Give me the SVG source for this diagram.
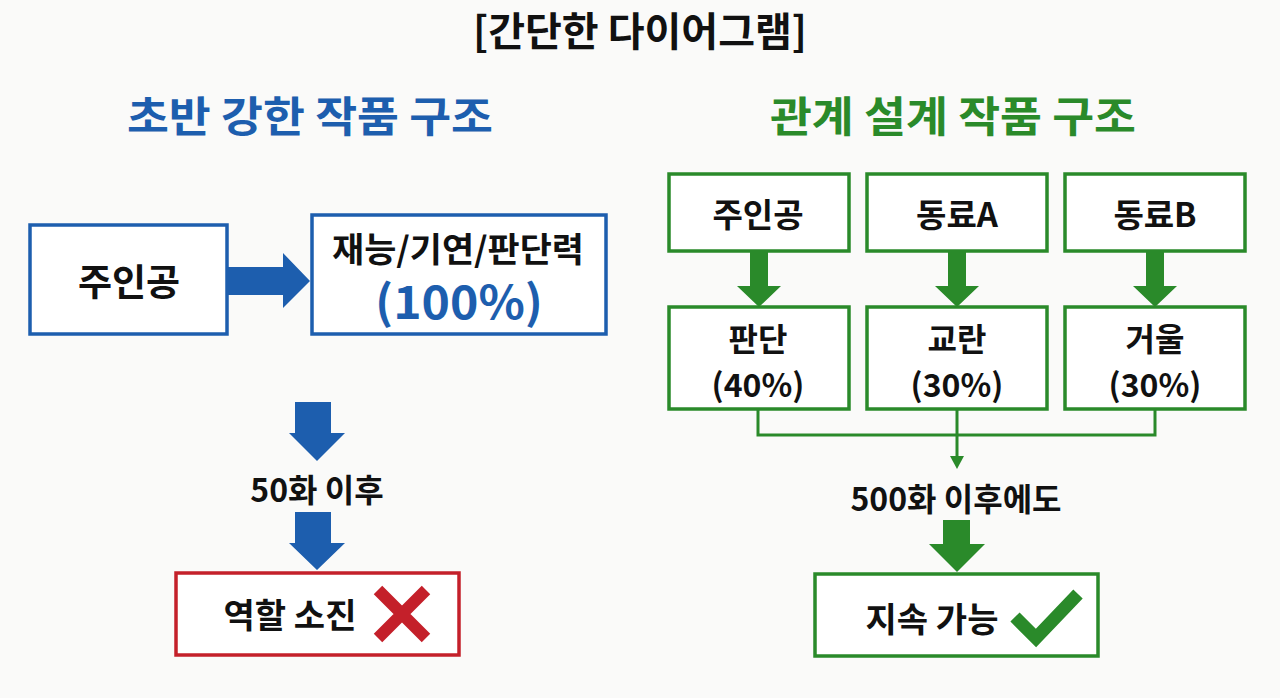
<svg xmlns="http://www.w3.org/2000/svg" width="1280" height="698" viewBox="0 0 1280 698">
<style>
text{font-family:"Noto Sans CJK KR","Noto Sans",sans-serif;font-weight:700;text-anchor:middle;dominant-baseline:central;fill:#111}
.blue{fill:#1d5eae}
.green{fill:#2a8a2a}
.bbox{fill:#fff;stroke:#1d5eae;stroke-width:3.5}
.gbox{fill:#fff;stroke:#2a8a2a;stroke-width:3.5}
.rbox{fill:#fff;stroke:#c4202a;stroke-width:3.5}
.barrow{fill:#1d5eae}
.garrow{fill:#2a8a2a}
.gline{fill:none;stroke:#2a8a2a;stroke-width:3}
</style>
<rect width="1280" height="698" fill="#fafaf9"/>
<text x="640" y="29" font-size="40" textLength="334" lengthAdjust="spacingAndGlyphs">[간단한 다이어그램]</text>
<text class="blue" x="310" y="113" font-size="42" textLength="366" lengthAdjust="spacingAndGlyphs">초반 강한 작품 구조</text>
<text class="green" x="953" y="113" font-size="42" textLength="366" lengthAdjust="spacingAndGlyphs">관계 설계 작품 구조</text>

<g id="left-main">
<rect class="bbox" x="30" y="225" width="197" height="109"/>
<text x="129" y="280" font-size="37">주인공</text>
</g>
<g id="left-talent">
<rect class="bbox" x="312" y="215" width="294" height="119"/>
<text x="458" y="247" font-size="34" textLength="252" lengthAdjust="spacingAndGlyphs">재능/기연/판단력</text>
<text class="blue" x="459" y="299" font-size="46" font-weight="500" textLength="168" lengthAdjust="spacingAndGlyphs">(100%)</text>
</g>
<g id="left-after">
<text x="317" y="488" font-size="32">50화 이후</text>
</g>
<g id="left-result">
<rect class="rbox" x="176" y="573" width="283" height="82"/>
<text x="290" y="613" font-size="34">역할 소진</text>
<path d="M378 590 L426 638 M426 590 L378 638" stroke="#c4202a" stroke-width="12" fill="none"/>
</g>

<g id="right-top-1"><rect class="gbox" x="669" y="174" width="180" height="77"/><text x="758" y="213" font-size="33">주인공</text></g>
<g id="right-top-2"><rect class="gbox" x="867" y="174" width="180" height="77"/><text x="957" y="213" font-size="33">동료A</text></g>
<g id="right-top-3"><rect class="gbox" x="1065" y="174" width="180" height="77"/><text x="1155" y="213" font-size="33">동료B</text></g>
<g id="right-mid-1"><rect class="gbox" x="669" y="307" width="180" height="102"/><text x="758" y="337" font-size="32">판단</text><text x="758" y="383" font-size="32" font-weight="500">(40%)</text></g>
<g id="right-mid-2"><rect class="gbox" x="867" y="307" width="180" height="102"/><text x="957" y="337" font-size="32">교란</text><text x="957" y="383" font-size="32" font-weight="500">(30%)</text></g>
<g id="right-mid-3"><rect class="gbox" x="1065" y="307" width="180" height="102"/><text x="1155" y="337" font-size="32">거울</text><text x="1155" y="383" font-size="32" font-weight="500">(30%)</text></g>
<g id="right-after"><text x="956" y="497" font-size="32">500화 이후에도</text></g>
<g id="right-result">
<rect class="gbox" x="815" y="574" width="283" height="82"/>
<text x="932" y="617" font-size="34">지속 가능</text>
<path d="M1015 617 L1036 638 L1078 594" stroke="#2a8a2a" stroke-width="13" fill="none" stroke-linejoin="miter"/>
</g>

<g id="connectors">
<path class="barrow" d="M228 267 H283 V253 L310 281 L283 308 V295 H228 Z"/>
<path class="barrow" d="M295 402 H331 V433 H345 L317 461 L289 433 H295 Z"/>
<path class="barrow" d="M295 512 H331 V543 H345 L317 570 L289 543 H295 Z"/>
<path class="garrow" d="M750 251 H768 V286 H781 L759 307 L737 286 H750 Z"/>
<path class="garrow" d="M948 251 H966 V286 H979 L957 307 L935 286 H948 Z"/>
<path class="garrow" d="M1146 251 H1164 V286 H1177 L1155 307 L1133 286 H1146 Z"/>
<path class="gline" d="M758 409 V435 H1155 V409 M957 409 V458"/>
<path class="garrow" d="M950 456 H964 L957 469 Z"/>
<path class="garrow" d="M943 520 H970 V544 H985 L957 572 L929 544 H943 Z"/>
</g>
</svg>
